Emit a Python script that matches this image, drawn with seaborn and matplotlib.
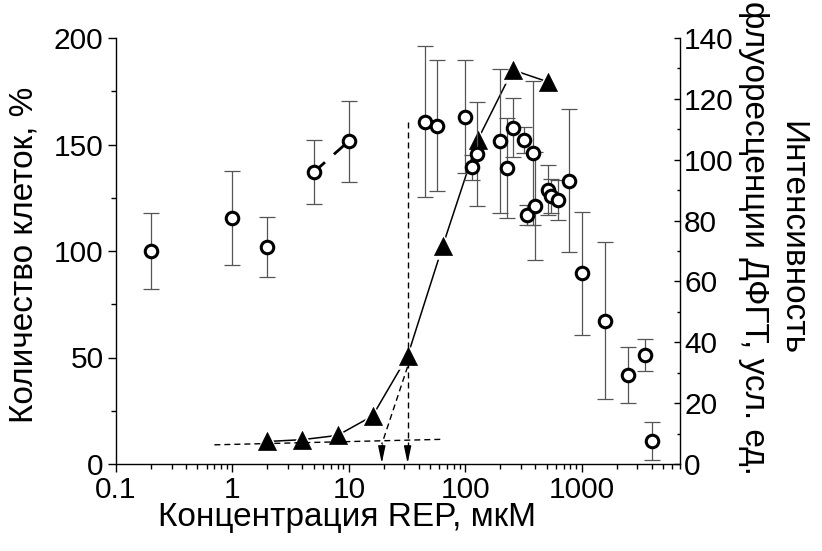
import matplotlib
matplotlib.use("Agg")
import matplotlib.pyplot as plt
import seaborn as sns
from matplotlib.ticker import FixedLocator, FuncFormatter, MultipleLocator, LogLocator, NullFormatter

# Cell count (% of control) vs REP concentration, with SD
conc = [0.2, 1, 2, 5, 10, 45, 57, 100, 114, 127, 200, 227, 256, 320, 342,
        380, 395, 511, 546, 623, 783, 1000, 1600, 2500, 3500, 4000]
cells = [100, 115.5, 102, 137, 151.6, 160.7, 158.8, 163.1, 139.3, 145.5, 151.6,
         138.8, 157.9, 152.1, 116.9, 146.2, 121.1, 128.6, 126, 124, 133, 89.5,
         67.3, 41.8, 51.2, 10.9]
cells_err = [18, 22, 14, 15, 19, 35.5, 30.8, 26.6, 6, 24.3, 33.8, 23.5, 13.9, 6,
             4.7, 33.8, 25.4, 11.7, 8, 9.5, 33.5, 29, 37, 13, 7.6, 9]

# DPGT fluorescence intensity (a.u.)
dfgt_conc = [2, 4, 8, 16, 32, 64, 128, 256, 512]
dfgt_int = [7.4, 8.0, 9.4, 15.8, 35.5, 71.6, 106.5, 129.5, 125.6]

# Construction lines for the threshold estimate
base_x = [0.7, 62]
base_y = [6.3, 8.1]
tang_x = [32, 19.2]
tang_y = [32, 6.5]
thr_low = 19.2
thr_mid = 32
thr_top = 112.5

x_ticks = [0.1, 1, 10, 100, 1000]

sns.set_theme(style="ticks")
plt.rcParams["font.family"] = ["Liberation Sans", "DejaVu Sans"]
plt.rcParams["lines.scale_dashes"] = False
FS_TICK = 21.5
FS_LABEL = 24

fig = plt.figure(figsize=(8.22, 5.51), dpi=100)
ax = fig.add_axes([116 / 822, 87 / 551, 564 / 822, 426 / 551])
ax2 = ax.twinx()
ax.set_zorder(ax2.get_zorder() + 1)
ax.patch.set_visible(False)

ax.set_xscale("log")
ax.set_xlim(0.1, 7000)
ax.set_ylim(0, 200)
ax2.set_ylim(0, 140)

# --- fluorescence curve (right axis) ---
sns.lineplot(x=dfgt_conc, y=dfgt_int, ax=ax2, color="black", linewidth=1.1,
             sort=False, estimator=None, zorder=2)
ax2.scatter(dfgt_conc, dfgt_int, marker="^", s=19 ** 2, color="white",
            linewidths=0, zorder=3)

dash = (0, (4.3, 2.9))
ax2.plot(base_x, base_y, color="black", lw=1.0, linestyle=dash, zorder=3.5)
ax2.plot(tang_x, tang_y, color="black", lw=1.0, linestyle=dash, zorder=3.5)
ax2.plot([thr_mid, thr_mid], [thr_top, 4.5], color="black", lw=1.0,
         linestyle=dash, zorder=3.5)
ax2.plot([thr_low, thr_low], [tang_y[1], 4.5], color="black", lw=1.0,
         linestyle=dash, zorder=3.5)
for xv in (thr_low, thr_mid):
    ax2.annotate("", xy=(xv, 0.2), xytext=(xv, 4.6),
                 arrowprops=dict(arrowstyle="-|>,head_length=0.85,head_width=0.18",
                                 color="black", lw=1.0, shrinkA=0, shrinkB=0),
                 zorder=3.6)

sns.scatterplot(x=dfgt_conc, y=dfgt_int, ax=ax2, marker="^", s=13 ** 2,
                color="black", edgecolor="black", linewidth=0.5, zorder=4,
                legend=False)

# --- cell count (left axis) ---
ax.errorbar(conc, cells, yerr=cells_err, fmt="none", ecolor="#555555",
            elinewidth=0.9, capsize=5.5, capthick=0.9, zorder=3)
ax.plot([5, 10], [137, 151.6], color="black", lw=2.0,
        linestyle=(0, (10.8, 8.6, 30, 10)), zorder=3.5)
sns.scatterplot(x=conc, y=cells, ax=ax, marker="o", s=81, color="white",
                edgecolor="black", linewidth=2.2, zorder=5, legend=False)

# --- axes styling ---
for s in ("top", "right"):
    ax.spines[s].set_visible(False)
ax2.spines["top"].set_visible(False)
ax2.spines["left"].set_visible(False)
ax2.spines["bottom"].set_visible(False)
for sp in (ax.spines["left"], ax.spines["bottom"], ax2.spines["right"]):
    sp.set_linewidth(1.0)
    sp.set_color("black")

ax.xaxis.set_major_locator(FixedLocator(x_ticks))
ax.xaxis.set_major_formatter(FuncFormatter(lambda v, p: f"{v:g}"))
ax.xaxis.set_minor_locator(LogLocator(base=10, subs=range(2, 10), numticks=20))
ax.xaxis.set_minor_formatter(NullFormatter())
ax.yaxis.set_major_locator(MultipleLocator(50))
ax.yaxis.set_minor_locator(MultipleLocator(25))
ax2.yaxis.set_major_locator(MultipleLocator(20))
ax2.yaxis.set_minor_locator(MultipleLocator(10))

ax.tick_params(axis="both", which="major", direction="out", length=6, width=1.0,
               labelsize=FS_TICK, colors="black", pad=3)
ax.tick_params(axis="both", which="minor", direction="out", length=3.5, width=1.0,
               colors="black")
ax2.tick_params(axis="y", which="major", direction="in", length=4, width=1.0,
                labelsize=FS_TICK, colors="black", pad=3)
ax2.tick_params(axis="y", which="minor", direction="in", length=2.5, width=1.0,
                colors="black")

ax.set_xlabel("Концентрация REP, мкМ", fontsize=FS_LABEL, color="black")
ax.xaxis.set_label_coords(0.41, -0.09)
ax.set_ylabel("Количество клеток, %", fontsize=FS_LABEL, color="black")
ax.yaxis.set_label_coords(-0.135, 0.49)
ax2.set_ylabel("Интенсивность\nфлуоресценции ДФГТ, усл. ед.", fontsize=FS_LABEL,
               color="black", rotation=270, multialignment="center",
               linespacing=1.3, va="center", ha="center")
ax2.yaxis.set_label_coords(1.165, 0.53)

fig.savefig("out.png", dpi=100)
